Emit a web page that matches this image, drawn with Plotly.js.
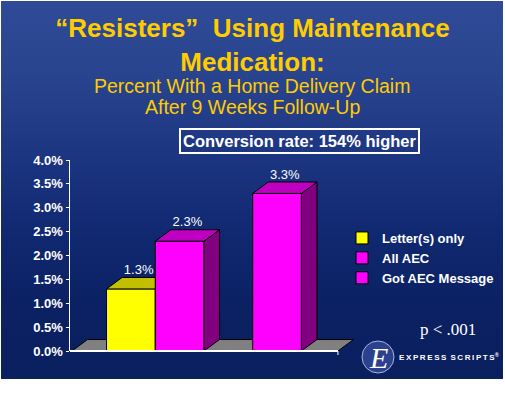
<!DOCTYPE html>
<html>
<head>
<meta charset="utf-8">
<script src="https://cdn.plot.ly/plotly-3.0.1.min.js"></script>
<style>
  html, body { margin: 0; padding: 0; background: #ffffff; }
  #bg { position: absolute; left: 1px; top: 1px; width: 502px; height: 378px;
        background: linear-gradient(to bottom, #2f4a96 0%, #2a4590 18%, #1d3682 40%, #102870 62%, #0b2163 80%, #0a1f5e 100%); }
  #chart { position: absolute; left: 0; top: 0; width: 505px; height: 397px; }
</style>
</head>
<body>
<div id="bg"></div>
<div id="chart"></div>
<script>
// ---- data ----
const categories = ['Letter(s) only', 'All AEC', 'Got AEC Message'];
const values = [1.3, 2.3, 3.3];
const valueLabels = ['1.3%', '2.3%', '3.3%'];
const yTickValues = [0, 0.5, 1, 1.5, 2, 2.5, 3, 3.5, 4];
const yTickLabels = ['0.0%', '0.5%', '1.0%', '1.5%', '2.0%', '2.5%', '3.0%', '3.5%', '4.0%'];

// ---- layout / style constants ----
const xPos = [1.25, 2.25, 4.25];
const barW = 1;
const depthX = 0.32, depthY = 0.24;
const floorStart = 0.04, floorEnd = 5.5;
const frontColors = ['#ffff00', '#ff00ff', '#ff00ff'];
const topColors = ['#c0c000', '#c000c0', '#c000c0'];
const sideColors = ['#808000', '#800080', '#800080'];
const FONT = 'Liberation Sans, Arial, sans-serif';

const M = {l: 70, r: 150, t: 160, b: 46, autoexpand: false};
const W = 505, H = 397;
const plotW = W - M.l - M.r, plotH = H - M.t - M.b;
const px = p => (p - M.l) / plotW;
const py = p => (H - M.b - p) / plotH;

const traces = [];
// front faces as real bars (legend entries)
for (let i = 0; i < values.length; i++) {
  traces.push({
    type: 'bar', x: [xPos[i]], y: [values[i]], width: [barW], name: categories[i],
    marker: {color: frontColors[i], line: {color: '#000000', width: 1}},
    hoverinfo: 'skip'
  });
}
// top and side faces (3D effect), occlusion by taller adjacent bar
for (let i = 0; i < values.length; i++) {
  const v = values[i];
  const l = xPos[i] - barW / 2, r = xPos[i] + barW / 2;
  const nextAdj = (i + 1 < values.length) && Math.abs(xPos[i + 1] - barW / 2 - r) < 1e-9 && values[i + 1] >= v + depthY;
  let topX, topY;
  if (nextAdj) {
    topX = [l, r, r, l + depthX, l];
    topY = [v, v, v + depthY, v + depthY, v];
  } else {
    topX = [l, r, r + depthX, l + depthX, l];
    topY = [v, v, v + depthY, v + depthY, v];
    traces.push({
      type: 'scatter', mode: 'lines', fill: 'toself', fillcolor: sideColors[i],
      x: [r, r + depthX, r + depthX, r, r], y: [0, depthY, v + depthY, v, 0],
      line: {color: '#000000', width: 1}, showlegend: false, hoverinfo: 'skip'
    });
  }
  traces.push({
    type: 'scatter', mode: 'lines', fill: 'toself', fillcolor: topColors[i],
    x: topX, y: topY, line: {color: '#000000', width: 1}, showlegend: false, hoverinfo: 'skip'
  });
}
// value labels
traces.push({
  type: 'scatter', mode: 'text',
  x: xPos.map(x => x + depthX / 2), y: values.map(v => v + depthY),
  text: valueLabels, textposition: 'top center',
  textfont: {family: FONT, size: 13, color: '#ffffff'},
  showlegend: false, hoverinfo: 'skip', cliponaxis: false
});

const shapes = [
  {type: 'path', xref: 'x', yref: 'y', layer: 'below',
   path: `M${floorStart},0 L${floorEnd},0 L${floorEnd + depthX},${depthY} L${floorStart + depthX},${depthY} Z`,
   fillcolor: '#808080', line: {color: '#000000', width: 1}},
  {type: 'line', xref: 'x', yref: 'paper', x0: 0, x1: floorEnd, y0: 0, y1: 0,
   line: {color: '#ffffff', width: 2}},
  {type: 'line', xref: 'x', yref: 'paper', x0: floorEnd, x1: floorEnd, y0: 0, y1: py(355),
   line: {color: '#ffffff', width: 1}},
  {type: 'circle', xref: 'paper', yref: 'paper', x0: px(362), x1: px(394), y0: py(373), y1: py(341),
   fillcolor: '#2b418e', line: {color: '#aab4d8', width: 1}}
];

const TS = '\u2009';
const annotations = [
  {text: 'Percent With a Home Delivery Claim', xref: 'paper', yref: 'paper', x: px(252), y: py(86),
   xanchor: 'center', yanchor: 'middle', showarrow: false,
   font: {family: FONT, size: 19.5, color: '#ffcc00'}},
  {text: 'After 9 Weeks Follow-Up', xref: 'paper', yref: 'paper', x: px(252), y: py(107),
   xanchor: 'center', yanchor: 'middle', showarrow: false,
   font: {family: FONT, size: 19.5, color: '#ffcc00'}},
  {text: 'Conversion rate: 154% higher', xref: 'paper', yref: 'paper', x: px(299.5), y: py(140.5),
   xanchor: 'center', yanchor: 'middle', showarrow: false,
   bordercolor: '#ffffff', borderwidth: 2, borderpad: 2,
   font: {family: FONT, size: 16.5, color: '#ffffff', weight: 'bold'}},
  {text: 'p < .001', xref: 'paper', yref: 'paper', x: px(448), y: py(329),
   xanchor: 'center', yanchor: 'middle', showarrow: false,
   font: {family: 'Liberation Serif, serif', size: 17, color: '#ffffff'}},
  {text: '<i>E</i>', xref: 'paper', yref: 'paper', x: px(378), y: py(357),
   xanchor: 'center', yanchor: 'middle', showarrow: false,
   font: {family: 'Liberation Serif, serif', size: 30, color: '#ffffff'}},
  {text: 'EXPRESS'.split('').join(TS) + '\u2002' + 'SCRIPTS'.split('').join(TS) + '<sup>®</sup>',
   xref: 'paper', yref: 'paper', x: px(397), y: py(357),
   xanchor: 'left', yanchor: 'middle', showarrow: false,
   font: {family: FONT, size: 8, color: '#ffffff', weight: 'bold'}}
];

const layout = {
  width: W, height: H,
  margin: M,
  paper_bgcolor: 'rgba(0,0,0,0)', plot_bgcolor: 'rgba(0,0,0,0)',
  title: {text: '“Resisters”  Using Maintenance<br>Medication:',
          font: {family: FONT, size: 26, color: '#ffcc00', weight: 'bold'},
          x: 0.5, xanchor: 'center', xref: 'container', y: 1 - 37 / H, yanchor: 'top', yref: 'container'},
  barmode: 'overlay',
  xaxis: {range: [0, 5.85], showgrid: false, zeroline: false, showline: false, showticklabels: false, ticks: '', fixedrange: true},
  yaxis: {range: [0, 4], tickvals: yTickValues, ticktext: yTickLabels, showgrid: false, zeroline: false,
          showline: true, linecolor: '#ffffff', linewidth: 1.5, ticks: 'outside', ticklen: 3, tickcolor: '#ffffff', tickwidth: 1,
          tickfont: {family: FONT, size: 13, color: '#ffffff', weight: 'bold'}, fixedrange: true},
  showlegend: true,
  legend: {x: px(342), y: py(223), xanchor: 'left', yanchor: 'top', bgcolor: 'rgba(0,0,0,0)',
           font: {family: FONT, size: 13, color: '#ffffff', weight: 'bold'}, itemwidth: 30, traceorder: 'normal'},
  shapes: shapes,
  annotations: annotations
};

Plotly.newPlot('chart', traces, layout, {displayModeBar: false, staticPlot: true});
</script>
</body>
</html>
